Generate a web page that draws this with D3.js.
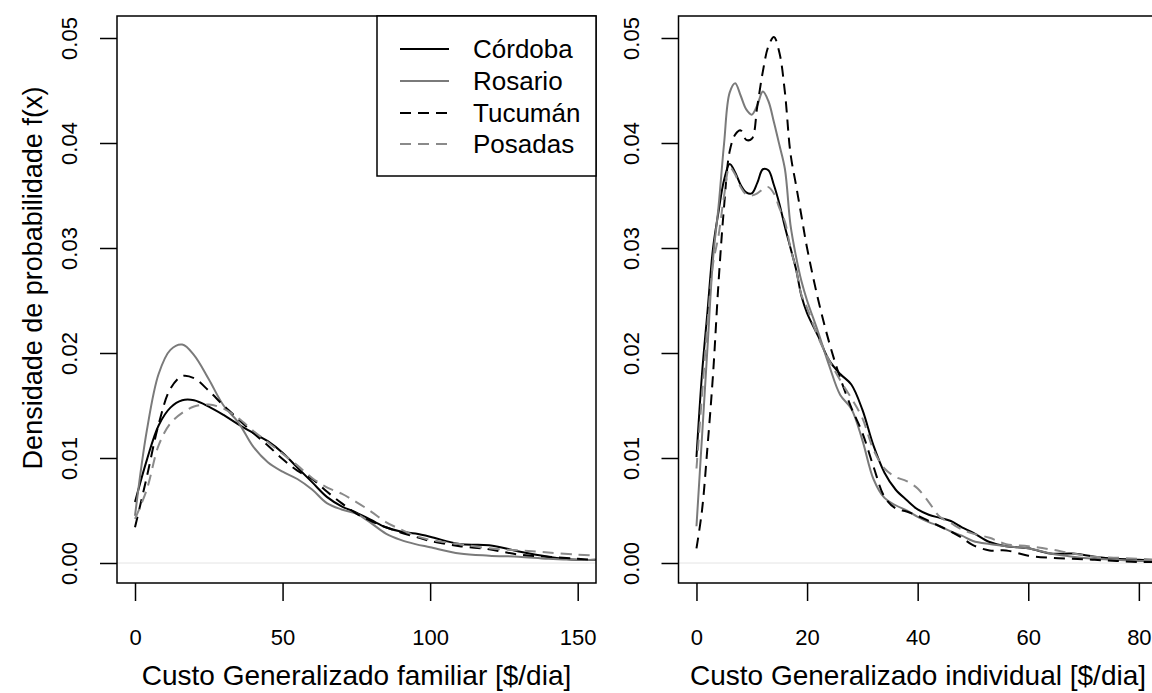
<!DOCTYPE html>
<html><head><meta charset="utf-8">
<script src="https://cdn.jsdelivr.net/npm/d3@7"></script>
<style>
body{margin:0;background:#fff}
svg{display:block}
text{font-family:"Liberation Sans",Arial,Helvetica,sans-serif;fill:#000}
</style>
</head><body>
<svg id="chart" width="1152" height="693"></svg>
<script>
// ---------- DATA ----------
const seriesNames = ["Córdoba", "Rosario", "Tucumán", "Posadas"];

// Panel 1: Custo Generalizado familiar
const famX = [0,4,8,12,16,20,25,30,35,40,45,50,55,60,65,70,75,80,85,90,95,100,110,120,130,140,150,156];
const famCordoba = [0.0058,0.0098,0.0131,0.0148,0.0155,0.0155,0.0149,0.0141,0.0132,0.0124,0.0116,0.0105,0.0091,0.0077,0.0063,0.0054,0.0048,0.0041,0.0034,0.0030,0.0028,0.0025,0.0018,0.0017,0.0011,0.0006,0.0003,0.0003];
const famRosario = [0.0045,0.0126,0.0180,0.0203,0.0208,0.0198,0.0175,0.0150,0.0134,0.0111,0.0096,0.0087,0.0080,0.0070,0.0057,0.0051,0.0047,0.0038,0.0028,0.0022,0.0018,0.0015,0.0009,0.0007,0.0006,0.0004,0.0003,0.0003];
const famTucuman = [0.0034,0.0082,0.0132,0.0166,0.0178,0.0176,0.0164,0.0150,0.0137,0.0124,0.0112,0.0099,0.0088,0.0080,0.0068,0.0057,0.0047,0.0040,0.0034,0.0029,0.0025,0.0021,0.0016,0.0013,0.0008,0.0006,0.0004,0.0003];
const famPosadas = [0.0042,0.0070,0.0112,0.0133,0.0143,0.0149,0.0151,0.0147,0.0138,0.0126,0.0115,0.0104,0.0093,0.0081,0.0072,0.0066,0.0058,0.0049,0.0039,0.0032,0.0026,0.0022,0.0018,0.0014,0.0012,0.0010,0.0008,0.0007];

// Panel 2: Custo Generalizado individual
const indX = [0,1,2,3,4,5,6,7,8,9,10,11,12,13,14,15,16,17,18,19,20,22,24,26,28,30,32,34,36,38,40,42,44,46,48,50,53,56,60,64,68,72,76,80,84];
const indCordoba = [0.0101,0.0180,0.0240,0.0300,0.0335,0.0365,0.0380,0.0372,0.0360,0.0353,0.0352,0.0362,0.0375,0.0374,0.0360,0.0342,0.0320,0.0300,0.0280,0.0254,0.0238,0.0216,0.0193,0.0180,0.0170,0.0146,0.0112,0.0086,0.0070,0.0060,0.0051,0.0046,0.0043,0.0040,0.0034,0.0029,0.0020,0.0016,0.0014,0.0009,0.0009,0.0006,0.0004,0.0003,0.0002];
const indRosario = [0.0035,0.0120,0.0206,0.0290,0.0340,0.0400,0.0448,0.0457,0.0445,0.0432,0.0427,0.0436,0.0449,0.0440,0.0420,0.0398,0.0375,0.0322,0.0292,0.0268,0.0250,0.0220,0.0188,0.0160,0.0147,0.0117,0.0080,0.0062,0.0055,0.0050,0.0044,0.0039,0.0035,0.0030,0.0026,0.0021,0.0018,0.0016,0.0014,0.0009,0.0006,0.0004,0.0003,0.0002,0.0002];
const indTucuman = [0.0014,0.0050,0.0111,0.0180,0.0268,0.0340,0.0392,0.0408,0.0412,0.0403,0.0404,0.0435,0.0468,0.0492,0.0501,0.0486,0.0448,0.0390,0.0360,0.0330,0.0300,0.0251,0.0210,0.0176,0.0148,0.0124,0.0092,0.0063,0.0052,0.0049,0.0045,0.0040,0.0035,0.0030,0.0024,0.0017,0.0012,0.0012,0.0007,0.0005,0.0004,0.0003,0.0002,0.0001,0.0001];
const indPosadas = [0.0090,0.0160,0.0228,0.0285,0.0312,0.0350,0.0377,0.0370,0.0358,0.0351,0.0350,0.0352,0.0356,0.0358,0.0352,0.0338,0.0325,0.0300,0.0280,0.0255,0.0243,0.0215,0.0193,0.0174,0.0157,0.0138,0.0108,0.0090,0.0082,0.0078,0.0071,0.0058,0.0044,0.0038,0.0032,0.0028,0.0024,0.0018,0.0016,0.0013,0.0009,0.0006,0.0005,0.0004,0.0003];

const famTicks = [0, 50, 100, 150];
const indTicks = [0, 20, 40, 60, 80];
const yTicks = [0, 0.01, 0.02, 0.03, 0.04, 0.05];
const xTitles = ["Custo Generalizado familiar [$/dia]", "Custo Generalizado individual [$/dia]"];
const yTitle = "Densidade de probabilidade f(x)";

// ---------- STYLE / LAYOUT ----------
const styles = [
  {color: "#000000", dash: null},
  {color: "#7a7a7a", dash: null},
  {color: "#000000", dash: "11,7"},
  {color: "#8a8a8a", dash: "11,7"}
];
const boxTop = 16, boxBottom = 583;
const panels = [
  {left: 117, right: 596, domain: [-6.1, 156.2], xs: famX, ys: [famCordoba, famRosario, famTucuman, famPosadas], ticks: famTicks, title: xTitles[0]},
  {left: 678.5, right: 1157.5, domain: [-3.25, 83.37], xs: indX, ys: [indCordoba, indRosario, indTucuman, indPosadas], ticks: indTicks, title: xTitles[1]}
];

const svg = d3.select("#chart");
const y = d3.scaleLinear().domain([0, 0.05]).range([563, 38]);

panels.forEach((p, pi) => {
  const x = d3.scaleLinear().domain(p.domain).range([p.left, p.right]);
  const clipId = "clip" + pi;
  svg.append("clipPath").attr("id", clipId).append("rect")
    .attr("x", p.left).attr("y", boxTop).attr("width", p.right - p.left).attr("height", boxBottom - boxTop);

  const g = svg.append("g");
  const plot = g.append("g").attr("clip-path", `url(#${clipId})`);

  // zero line
  plot.append("line").attr("x1", p.left).attr("x2", p.right)
    .attr("y1", y(0)).attr("y2", y(0)).attr("stroke", "#e4e4e4").attr("stroke-width", 1);

  const line = d3.line().x(d => x(d[0])).y(d => y(d[1])).curve(d3.curveCatmullRom.alpha(0.5));
  p.ys.forEach((vals, si) => {
    const pts = p.xs.map((xv, i) => [xv, vals[i]]);
    plot.append("path").attr("d", line(pts))
      .attr("fill", "none").attr("stroke", styles[si].color).attr("stroke-width", 2)
      .attr("stroke-dasharray", styles[si].dash);
  });

  // box
  g.append("rect").attr("x", p.left).attr("y", boxTop).attr("width", p.right - p.left)
    .attr("height", boxBottom - boxTop).attr("fill", "none").attr("stroke", "#000").attr("stroke-width", 1.5);

  // x axis
  const xa = g.append("g").attr("transform", `translate(0,${boxBottom})`)
    .call(d3.axisBottom(x).tickValues(p.ticks).tickSize(18).tickPadding(28).tickFormat(d3.format("d")));
  xa.select(".domain").remove();
  xa.selectAll("line").attr("stroke", "#000").attr("stroke-width", 1.5);
  xa.selectAll("text").style("font-size", "22px").attr("fill", "#000");

  // y axis
  const ya = g.append("g").attr("transform", `translate(${p.left},0)`)
    .call(d3.axisLeft(y).tickValues(yTicks).tickSize(17).tickFormat(d3.format(".2f")));
  ya.select(".domain").remove();
  ya.selectAll("line").attr("stroke", "#000").attr("stroke-width", 1.5);
  ya.selectAll("text").remove();
  ya.selectAll(".tick").append("text")
    .attr("transform", "rotate(-90)")
    .attr("x", 0).attr("y", -40)
    .attr("text-anchor", "middle")
    .style("font-size", "22px").attr("fill", "#000")
    .text(d => d3.format(".2f")(d));

  // x title, centred on the panel box
  g.append("text").attr("x", (p.left + p.right) / 2).attr("y", 685)
    .attr("text-anchor", "middle").style("font-size", "28px").text(p.title);
});

// y title
svg.append("text").attr("transform", "translate(42,278) rotate(-90)")
  .attr("text-anchor", "middle").style("font-size", "27px").text(yTitle);

// legend
const lg = svg.append("g");
lg.append("rect").attr("x", 377).attr("y", boxTop).attr("width", 596 - 377).attr("height", 176 - boxTop)
  .attr("fill", "#fff").attr("stroke", "#000").attr("stroke-width", 1.5);
const legY = [49, 81, 113, 144];
seriesNames.forEach((n, i) => {
  lg.append("line").attr("x1", 400).attr("x2", 449).attr("y1", legY[i]).attr("y2", legY[i])
    .attr("stroke", styles[i].color).attr("stroke-width", 2).attr("stroke-dasharray", styles[i].dash);
  lg.append("text").attr("x", 473).attr("y", legY[i]).attr("dy", "0.36em")
    .style("font-size", "26px").text(n);
});
</script>
</body></html>
